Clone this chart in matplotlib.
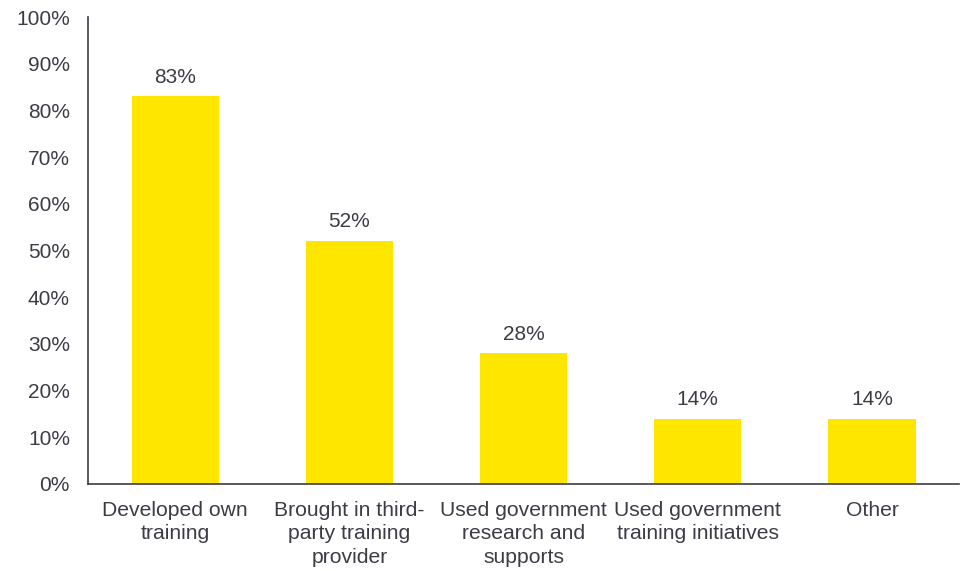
import matplotlib.pyplot as plt
from matplotlib.ticker import PercentFormatter

# Training approaches and share of respondents (%)
categories = [
    "Developed own\ntraining",
    "Brought in third-\nparty training\nprovider",
    "Used government\nresearch and\nsupports",
    "Used government\ntraining initiatives",
    "Other",
]
shares = [83, 52, 28, 14, 14]

text_col = "#3c3c46"
plt.rcParams["font.family"] = ["Liberation Sans", "DejaVu Sans"]

fig = plt.figure(figsize=(9.61, 5.71), dpi=100)
ax = fig.add_axes([0.0916, 0.1524, 0.9064, 0.8178])

x = range(len(categories))
bars = ax.bar(x, shares, width=0.5, color="#FFE600")

for b, v in zip(bars, shares):
    ax.annotate(f"{v}%", (b.get_x() + b.get_width() / 2, v),
                xytext=(0, 7), textcoords="offset points",
                ha="center", va="bottom", fontsize=15, color=text_col)

ax.set_xlim(-0.5, len(categories) - 0.5)
ax.set_ylim(0, 100)
ax.set_yticks(range(0, 101, 10))
ax.yaxis.set_major_formatter(PercentFormatter(decimals=0))
ax.set_xticks(list(x))
ax.set_xticklabels(categories, fontsize=15.2, color=text_col, linespacing=1.3)
ax.tick_params(axis="y", labelsize=15, labelcolor=text_col, length=0, pad=13)
ax.tick_params(axis="x", length=0, pad=12)

for side in ["top", "right"]:
    ax.spines[side].set_visible(False)
for side in ["left", "bottom"]:
    ax.spines[side].set_color(text_col)
    ax.spines[side].set_linewidth(1.2)

fig.savefig("out.png", dpi=100)
